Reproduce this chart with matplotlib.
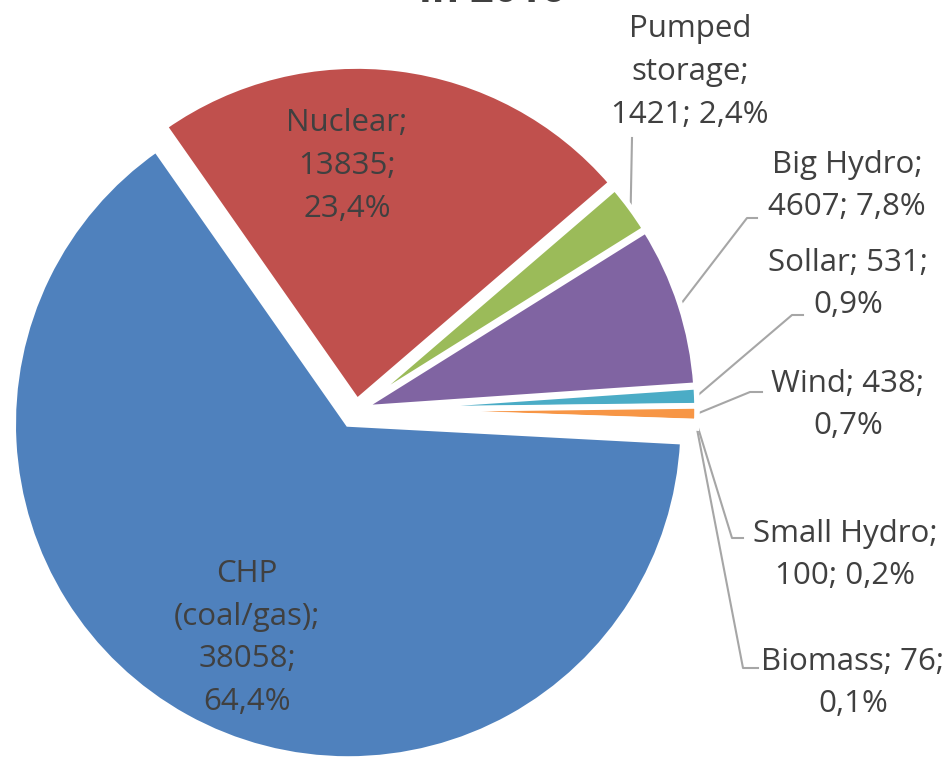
import numpy as np
import matplotlib.pyplot as plt

# data
names = ['Nuclear', 'Pumped\nstorage', 'Big Hydro', 'Sollar', 'Wind',
         'Small Hydro', 'Biomass', 'CHP\n(coal/gas)']
values = [13835, 1421, 4607, 531, 438, 100, 76, 38058]
colors = ['#C0504D', '#9BBB59', '#8064A2', '#4BACC6', '#F79646',
          '#2C4D75', '#772C2A', '#4F81BD']
title = 'in 2016'

# how each label is broken into lines (name|value|percent)
sep1 = ['\n', '\n', '\n', ' ', ' ', '\n', ' ', '\n']
sep2 = ['\n', ' ', ' ', '\n', '\n', ' ', '\n', '\n']

W, H = 953, 763
plt.rcParams['font.family'] = ['Open Sans', 'DejaVu Sans']

fig = plt.figure(figsize=(W / 100, H / 100), dpi=100)
ax = fig.add_axes([0, 0, 1, 1])


def Y(p):
    return H - p


# pie geometry in pixels (explode is an offset in data units here)
cx, cy, R = 356, 410, 335
explode = [9, 6, 6, 6, 6, 6, 6, 16]
wedges, _ = ax.pie(values, colors=colors, startangle=125, counterclock=False,
                   explode=explode, center=(cx, Y(cy)), radius=R,
                   wedgeprops=dict(edgecolor='white', linewidth=4))
ax.set_xlim(0, W)
ax.set_ylim(0, H)
ax.set_aspect('equal')
ax.axis('off')

total = sum(values)
texts = []
for n, v, s1, s2 in zip(names, values, sep1, sep2):
    pct = f'{v / total * 100:.1f}'.replace('.', ',')
    texts.append(f'{n};{s1}{v};{s2}{pct}%')

# label centres (pixels) and elbow points of leader lines
label_pos = [(347, 166), (690, 72), (847, 186), (848, 284), (848, 405),
             (845, 555), (853, 683), (247, 638)]
elbows = [None, [(632, 138)], [(757, 218), (747, 218)],
          [(803, 315), (792, 315)], [(762, 392), (750, 392)],
          [(743, 538), (732, 538)], [(758, 668), (743, 668)], None]

tc = '#404040'
for i, (w, t) in enumerate(zip(wedges, texts)):
    x, y = label_pos[i]
    ax.text(x, Y(y), t, ha='center', va='center', fontsize=22.5, color=tc,
            linespacing=1.55)
    if elbows[i] is None:
        continue
    mid = np.deg2rad((w.theta1 + w.theta2) / 2)
    ex = w.center[0] + w.r * np.cos(mid)
    ey = w.center[1] + w.r * np.sin(mid)
    xs = [p[0] for p in elbows[i]] + [ex]
    ys = [Y(p[1]) for p in elbows[i]] + [ey]
    ax.plot(xs, ys, color='#A6A6A6', lw=1.5, zorder=0.5)

ax.text(492, Y(2), title, ha='center', va='baseline', fontsize=30,
        fontweight='bold', color='#404040')

fig.savefig('out.png', dpi=100)
